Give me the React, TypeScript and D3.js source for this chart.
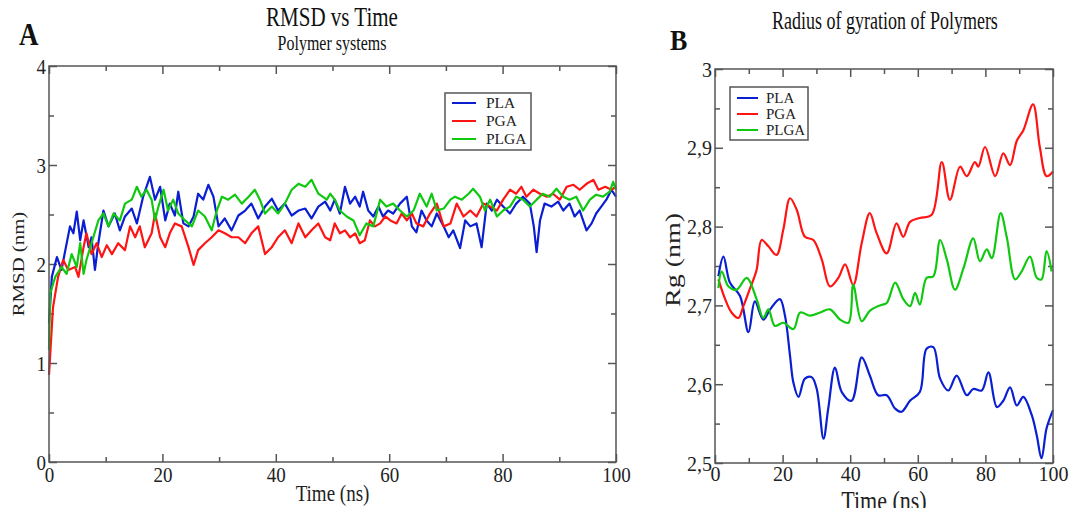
import React, { useEffect, useRef } from 'react';
import * as d3 from 'd3';

// RMSD (nm) vs time (ns), panel A
const rmsdPLA: [number, number][] = [
  [0, 1.40], [0.5, 1.87], [1.4, 2.07], [2.2, 1.94], [3.7, 2.38], [4.3, 2.31], [4.9, 2.53], [5.5, 2.24],
  [6.1, 2.44], [7.0, 2.17], [7.5, 2.27], [8.1, 1.94], [8.7, 2.21], [9.6, 2.54], [10.5, 2.38], [11.6, 2.51],
  [12.5, 2.34], [13.4, 2.48], [14.6, 2.56], [15.5, 2.41], [16.6, 2.68], [17.8, 2.88], [18.7, 2.65], [19.6, 2.78],
  [20.5, 2.44], [21.3, 2.61], [22.2, 2.49], [22.8, 2.73], [23.7, 2.41], [24.6, 2.38], [25.5, 2.48], [26.3, 2.71],
  [27.2, 2.65], [28.1, 2.80], [29.0, 2.68], [29.9, 2.38], [31.0, 2.46], [32.2, 2.34], [33.4, 2.49], [34.6, 2.54],
  [35.7, 2.61], [36.9, 2.46], [38.1, 2.58], [39.3, 2.66], [40.4, 2.54], [41.6, 2.61], [42.8, 2.49], [44.0, 2.54],
  [45.2, 2.56], [46.3, 2.46], [47.5, 2.58], [48.7, 2.63], [49.6, 2.54], [50.4, 2.65], [51.3, 2.51], [52.2, 2.78],
  [53.1, 2.61], [54.0, 2.68], [54.8, 2.58], [55.4, 2.73], [56.3, 2.54], [57.2, 2.48], [58.1, 2.58], [58.9, 2.48],
  [59.8, 2.54], [60.7, 2.51], [61.9, 2.61], [63.1, 2.68], [64.0, 2.38], [64.8, 2.32], [65.7, 2.54], [66.6, 2.44],
  [67.5, 2.38], [68.4, 2.51], [69.6, 2.38], [70.5, 2.27], [71.3, 2.34], [72.5, 2.16], [73.4, 2.44], [74.3, 2.38],
  [75.4, 2.41], [76.3, 2.17], [77.2, 2.61], [78.1, 2.54], [79.0, 2.65], [80.1, 2.58], [81.3, 2.51], [82.4, 2.61],
  [83.6, 2.68], [84.8, 2.61], [85.5, 2.38], [86.0, 2.12], [86.6, 2.44], [87.4, 2.61], [88.6, 2.58], [89.8, 2.63],
  [90.7, 2.54], [91.8, 2.61], [92.7, 2.48], [93.6, 2.54], [94.8, 2.34], [95.7, 2.41], [96.5, 2.51], [97.4, 2.58],
  [98.3, 2.65], [99.2, 2.75], [100, 2.68],
];
const rmsdPGA: [number, number][] = [
  [0, 0.88], [0.7, 1.56], [1.6, 1.87], [2.5, 2.04], [3.4, 1.94], [4.6, 1.97], [5.2, 1.87], [6.1, 2.17],
  [6.6, 2.31], [7.5, 2.10], [8.4, 2.21], [9.3, 2.07], [10.2, 2.19], [11.1, 2.10], [12.2, 2.21], [13.4, 2.14],
  [14.3, 2.38], [15.2, 2.27], [16.0, 2.38], [16.9, 2.17], [18.1, 2.31], [18.7, 2.51], [19.6, 2.27], [20.5, 2.17],
  [21.3, 2.31], [22.2, 2.41], [23.4, 2.38], [24.6, 2.17], [25.5, 1.99], [26.3, 2.14], [27.5, 2.21], [28.7, 2.27],
  [29.9, 2.34], [31.0, 2.31], [32.2, 2.27], [33.4, 2.27], [34.6, 2.21], [35.7, 2.31], [36.9, 2.38], [38.1, 2.10],
  [39.3, 2.17], [40.4, 2.27], [41.6, 2.34], [42.8, 2.21], [44.0, 2.41], [45.2, 2.27], [46.3, 2.34], [47.5, 2.41],
  [48.7, 2.27], [49.6, 2.24], [50.4, 2.41], [51.3, 2.31], [52.2, 2.34], [53.1, 2.27], [54.0, 2.31], [54.8, 2.21],
  [55.7, 2.24], [56.6, 2.44], [57.5, 2.38], [58.4, 2.41], [59.3, 2.48], [60.2, 2.44], [61.3, 2.41], [62.2, 2.51],
  [63.1, 2.44], [64.0, 2.51], [64.8, 2.41], [66.0, 2.38], [67.2, 2.51], [68.4, 2.61], [69.6, 2.38], [70.8, 2.41],
  [71.9, 2.61], [73.1, 2.48], [74.3, 2.54], [75.4, 2.48], [76.6, 2.61], [77.8, 2.58], [79.0, 2.54], [80.1, 2.65],
  [81.3, 2.75], [82.4, 2.71], [83.3, 2.78], [84.2, 2.68], [85.4, 2.75], [86.6, 2.71], [87.8, 2.68], [88.9, 2.71],
  [90.1, 2.65], [91.3, 2.78], [92.5, 2.80], [93.6, 2.75], [94.8, 2.81], [96.0, 2.85], [96.9, 2.75], [98.1, 2.78],
  [99.2, 2.75], [100, 2.78],
];
const rmsdPLGA: [number, number][] = [
  [0, 1.13], [0.2, 1.70], [1.1, 1.87], [2.2, 1.97], [3.1, 1.90], [4.0, 2.10], [4.9, 1.97], [5.5, 2.21],
  [6.1, 1.90], [6.6, 2.04], [7.5, 2.21], [8.7, 2.44], [9.6, 2.51], [10.5, 2.38], [11.4, 2.51], [12.5, 2.44],
  [13.4, 2.61], [14.6, 2.65], [15.5, 2.78], [16.3, 2.68], [17.2, 2.75], [18.1, 2.65], [18.7, 2.44], [19.3, 2.58],
  [20.2, 2.75], [21.0, 2.54], [21.9, 2.65], [22.8, 2.51], [24.0, 2.44], [25.2, 2.38], [26.3, 2.54], [27.5, 2.48],
  [28.7, 2.34], [29.6, 2.54], [30.5, 2.68], [31.6, 2.65], [32.8, 2.70], [34.0, 2.61], [35.2, 2.68], [36.3, 2.75],
  [37.2, 2.65], [38.1, 2.51], [39.3, 2.58], [40.4, 2.51], [41.6, 2.61], [42.8, 2.75], [44.0, 2.81], [45.2, 2.78],
  [46.3, 2.85], [47.5, 2.71], [49.0, 2.65], [49.6, 2.71], [50.4, 2.65], [51.3, 2.54], [52.5, 2.48], [53.7, 2.44],
  [54.8, 2.29], [56.0, 2.41], [57.2, 2.38], [58.4, 2.65], [59.5, 2.58], [60.7, 2.61], [61.9, 2.54], [63.1, 2.48],
  [64.3, 2.54], [65.4, 2.71], [66.6, 2.58], [67.5, 2.71], [68.4, 2.54], [69.6, 2.56], [70.8, 2.65], [71.6, 2.68],
  [72.8, 2.65], [74.0, 2.71], [74.8, 2.76], [76.0, 2.68], [76.9, 2.54], [77.8, 2.65], [79.0, 2.48], [80.1, 2.54],
  [81.3, 2.58], [82.4, 2.68], [83.6, 2.65], [84.8, 2.58], [86.0, 2.65], [87.1, 2.71], [88.3, 2.68], [89.5, 2.76],
  [90.7, 2.68], [91.8, 2.65], [93.0, 2.68], [94.2, 2.54], [95.4, 2.65], [96.5, 2.70], [97.7, 2.68], [98.9, 2.73],
  [99.5, 2.83], [100, 2.75],
];

// Rg (nm) vs time (ns), panel B
const rgPLA: [number, number][] = [
  [1, 2.737], [2.5, 2.762], [4.4, 2.729], [7.4, 2.712], [9.9, 2.666], [11.8, 2.705], [14.3, 2.682], [16.3, 2.695],
  [19.2, 2.708], [20.7, 2.687], [22.2, 2.636], [23.2, 2.602], [24.7, 2.584], [26.6, 2.607], [28.6, 2.609], [30.1, 2.594],
  [32.1, 2.531], [33.5, 2.569], [35.5, 2.621], [37.5, 2.590], [40.4, 2.579], [43.4, 2.634], [45.8, 2.611], [48.3, 2.586],
  [50.8, 2.586], [53.3, 2.569], [55.2, 2.565], [57.7, 2.579], [60.6, 2.590], [62.6, 2.645], [64.6, 2.647], [66.6, 2.607],
  [69.0, 2.592], [71.5, 2.611], [74.5, 2.586], [76.4, 2.594], [78.9, 2.592], [80.9, 2.615], [83.4, 2.571], [85.3, 2.579],
  [87.3, 2.596], [89.3, 2.573], [91.2, 2.584], [93.7, 2.561], [95.2, 2.535], [96.6, 2.506], [98.1, 2.544], [100, 2.567],
];
const rgPGA: [number, number][] = [
  [1, 2.733], [3, 2.708], [4.9, 2.691], [6.9, 2.684], [8.4, 2.699], [10.4, 2.722], [12.3, 2.745], [13.8, 2.783],
  [15.8, 2.775], [18.2, 2.764], [20.2, 2.796], [22.2, 2.836], [24.2, 2.821], [26.6, 2.787], [29.1, 2.783], [31.6, 2.758],
  [34.0, 2.724], [36.5, 2.735], [38.5, 2.752], [40.9, 2.726], [43.4, 2.779], [45.8, 2.817], [47.8, 2.792], [50.8, 2.766],
  [53.7, 2.804], [55.7, 2.787], [57.7, 2.806], [60.6, 2.811], [64.1, 2.815], [67.1, 2.882], [69.5, 2.834], [72.5, 2.876],
  [74.5, 2.864], [76.9, 2.882], [77.9, 2.876], [79.9, 2.901], [82.9, 2.864], [85.3, 2.893], [87.3, 2.878], [89.3, 2.909],
  [91.2, 2.922], [94.1, 2.955], [96.1, 2.901], [98.1, 2.864], [100, 2.870],
];
const rgPLGA: [number, number][] = [
  [1, 2.722], [2, 2.743], [4, 2.724], [6.4, 2.720], [9.4, 2.735], [12.3, 2.708], [14.3, 2.684], [15.8, 2.695],
  [17.7, 2.674], [20.2, 2.678], [23.2, 2.670], [25.2, 2.691], [28.1, 2.687], [31.1, 2.691], [34.0, 2.695], [37.0, 2.682],
  [39.5, 2.678], [40.9, 2.726], [43.4, 2.680], [45.8, 2.693], [48.8, 2.700], [50.8, 2.703], [53.3, 2.729], [55.7, 2.708],
  [57.7, 2.699], [59.2, 2.716], [60.6, 2.701], [62.6, 2.735], [64.6, 2.737], [66.6, 2.783], [68.6, 2.758], [71.0, 2.720],
  [73.5, 2.747], [76.4, 2.785], [78.4, 2.756], [80.4, 2.771], [81.9, 2.760], [84.5, 2.817], [86.3, 2.787], [88.8, 2.733],
  [90.7, 2.743], [93.2, 2.762], [95.2, 2.735], [96.6, 2.733], [98.1, 2.769], [99.6, 2.743],
];

const seriesNames = ['PLA', 'PGA', 'PLGA'];
const seriesColors = ['#0a1ed2', '#ff1414', '#10c810'];
const xTicks = [0, 20, 40, 60, 80, 100];
const rmsdTicks = [0, 1, 2, 3, 4];
const rgTicks = [2.5, 2.6, 2.7, 2.8, 2.9, 3.0];

const FONT = 'Liberation Serif, Times New Roman, serif';
const AXIS = '#555';

// the source figure is stretched vertically, so text glyphs are taller than wide
function stretch(sel: any, k: number) {
  sel.each(function (this: any) {
    const y = +(this.getAttribute('y') || 0);
    d3.select(this).attr('transform', `translate(0,${y}) scale(1,${k}) translate(0,${-y})`);
  });
}

function drawPanel(svg: any, o: any) {
  const x = d3.scaleLinear().domain([0, 100]).range([o.left, o.right]);
  const y = d3.scaleLinear().domain(o.yDomain).range([o.bottom, o.top]);
  const g = svg.append('g');

  const style = (sel: any, labels: boolean) => {
    sel.select('.domain').remove();
    sel.selectAll('line').attr('stroke', AXIS).attr('stroke-width', 1.5);
    sel.selectAll('text')
      .attr('font-family', FONT).attr('font-size', o.tickFont).attr('fill', '#222')
      .style('display', labels ? null : 'none');
  };

  // major + minor ticks on all four sides, pointing inward
  const majorX = xTicks;
  const minorX = d3.range(10, 100, 20);
  const majorY = o.yTicks;
  const minorY = o.yMinor;
  const bottom = g.append('g').attr('transform', `translate(0,${o.bottom})`)
    .call(d3.axisBottom(x).tickValues(majorX).tickSize(-8).tickPadding(o.xPad).tickFormat(d3.format('d')));
  style(bottom, true);
  bottom.selectAll('text').attr('dy', '0.72em');
  stretch(bottom.selectAll('text'), o.tickK);
  style(g.append('g').attr('transform', `translate(0,${o.bottom})`)
    .call(d3.axisBottom(x).tickValues(minorX).tickSize(-5)), false);
  style(g.append('g').attr('transform', `translate(0,${o.top})`)
    .call(d3.axisTop(x).tickValues(majorX).tickSize(-8)), false);
  style(g.append('g').attr('transform', `translate(0,${o.top})`)
    .call(d3.axisTop(x).tickValues(minorX).tickSize(-5)), false);
  const left = g.append('g').attr('transform', `translate(${o.left},0)`)
    .call(d3.axisLeft(y).tickValues(majorY).tickSize(-8).tickPadding(3).tickFormat(o.fmt));
  style(left, true);
  stretch(left.selectAll('text'), o.tickK);
  style(g.append('g').attr('transform', `translate(${o.left},0)`)
    .call(d3.axisLeft(y).tickValues(minorY).tickSize(-5)), false);
  style(g.append('g').attr('transform', `translate(${o.right},0)`)
    .call(d3.axisRight(y).tickValues(majorY).tickSize(-8)), false);
  style(g.append('g').attr('transform', `translate(${o.right},0)`)
    .call(d3.axisRight(y).tickValues(minorY).tickSize(-5)), false);

  const line = d3.line<[number, number]>()
    .x(d => x(d[0])).y(d => y(d[1]))
    .curve(o.curve);
  o.series.forEach((s: [number, number][], i: number) => {
    g.append('path').datum(s)
      .attr('d', line).attr('fill', 'none')
      .attr('stroke', seriesColors[i]).attr('stroke-width', 2.2)
      .attr('stroke-linejoin', 'round');
  });

  g.append('rect')
    .attr('x', o.left).attr('y', o.top)
    .attr('width', o.right - o.left).attr('height', o.bottom - o.top)
    .attr('fill', 'none').attr('stroke', AXIS).attr('stroke-width', 1.5);

  // legend
  const lg = o.legend;
  g.append('rect').attr('x', lg.x).attr('y', lg.y).attr('width', lg.w).attr('height', lg.h)
    .attr('fill', '#fff').attr('stroke', AXIS).attr('stroke-width', 1.5);
  seriesNames.forEach((name, i) => {
    const yy = lg.y + lg.first + i * lg.step;
    g.append('line').attr('x1', lg.x + 7).attr('x2', lg.x + lg.lineLen + 7)
      .attr('y1', yy).attr('y2', yy)
      .attr('stroke', seriesColors[i]).attr('stroke-width', 2);
    g.append('text').attr('x', lg.x + lg.textX).attr('y', yy + 5)
      .attr('font-family', FONT).attr('font-size', lg.font).attr('fill', '#222')
      .text(name);
  });

  // axis titles
  const cx = (o.left + o.right) / 2;
  const xt = g.append('text').attr('x', cx).attr('y', o.xTitleY).attr('text-anchor', 'middle')
    .attr('font-family', FONT).attr('font-size', o.xTitleFont).attr('fill', '#222')
    .text('Time (ns)');
  stretch(xt, o.xTitleK);
  g.append('text')
    .attr('transform', `translate(${o.yTitleX},${o.yTitleY}) scale(1,${o.yTitleK}) rotate(-90)`)
    .attr('text-anchor', 'middle')
    .attr('font-family', FONT).attr('font-size', o.yTitleFont).attr('fill', '#222')
    .text(o.yTitle);
}

function App() {
  const ref = useRef<SVGSVGElement>(null);

  useEffect(() => {
    const svg = d3.select(ref.current);
    svg.selectAll('*').remove();

    drawPanel(svg, {
      left: 49, right: 616, top: 66, bottom: 462,
      yDomain: [0, 4], yTicks: rmsdTicks, yMinor: [0.5, 1.5, 2.5, 3.5],
      fmt: d3.format('d'), tickFont: 19, tickK: 1.15, xPad: 4,
      series: [rmsdPLA, rmsdPGA, rmsdPLGA], curve: d3.curveLinear,
      legend: { x: 445, y: 93, w: 86, h: 57, first: 10, step: 18, lineLen: 24, textX: 41, font: 15.5 },
      xTitleY: 501, xTitleFont: 19, xTitleK: 1.25,
      yTitleX: 24, yTitleY: 264, yTitleFont: 16, yTitleK: 1.3, yTitle: 'RMSD (nm)',
    });
    drawPanel(svg, {
      left: 715, right: 1053, top: 69, bottom: 463,
      yDomain: [2.5, 3], yTicks: rgTicks, yMinor: [2.55, 2.65, 2.75, 2.85, 2.95],
      fmt: (d: number) => (d === 3 ? '3' : d3.format('.1f')(d).replace('.', ',')),
      tickFont: 20, tickK: 1.1, xPad: 2,
      series: [rgPLA, rgPGA, rgPLGA], curve: d3.curveCatmullRom.alpha(0.5),
      legend: { x: 730, y: 87, w: 78, h: 53, first: 11, step: 16, lineLen: 21, textX: 36, font: 15 },
      xTitleY: 510, xTitleFont: 22, xTitleK: 1.25,
      yTitleX: 680, yTitleY: 260, yTitleFont: 20, yTitleK: 1.4, yTitle: 'Rg (nm)',
    });

    const title = (x: number, y: number, size: number, k: number, t: string, bold = false) => {
      const el = svg.append('text').attr('x', x).attr('y', y).attr('text-anchor', bold ? 'start' : 'middle')
        .attr('font-family', FONT).attr('font-size', size)
        .attr('font-weight', bold ? 'bold' : 'normal').attr('fill', '#111').text(t);
      stretch(el, k);
    };
    title(332, 26, 21, 1.25, 'RMSD vs Time');
    title(332, 50, 16, 1.3, 'Polymer systems');
    title(885, 29, 18, 1.4, 'Radius of gyration of Polymers');
    title(19, 45, 27, 1.15, 'A', true);
    title(670, 50, 26, 1.15, 'B', true);
  }, []);

  return (
    <svg ref={ref} width={1070} height={508}
      style={{ position: 'absolute', left: 0, top: 0, background: '#fff' }} />
  );
}

export default App;
